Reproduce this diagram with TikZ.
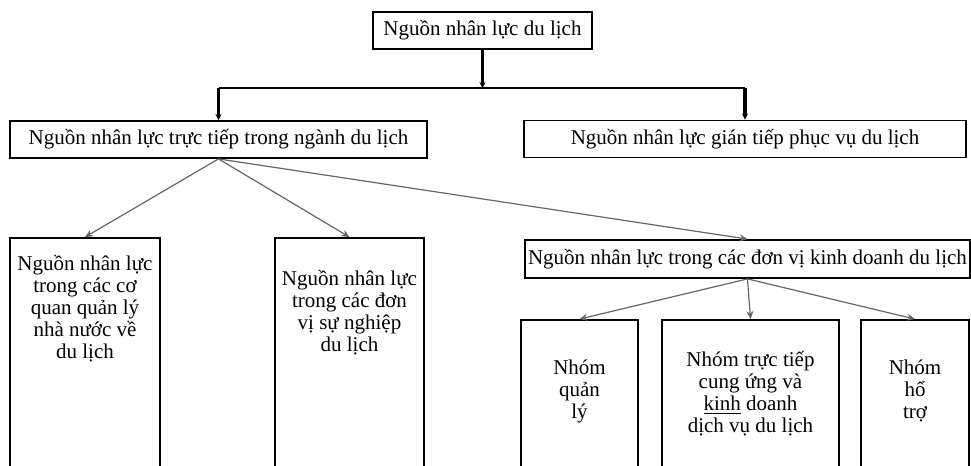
\documentclass[tikz,border=0pt]{standalone}
\usepackage{fontspec}
\setmainfont{Liberation Serif}
\usetikzlibrary{arrows.meta}
\begin{document}
\begin{tikzpicture}[x=0.5pt,y=-0.5pt,
    every node/.style={font=\fontsize{10.5}{11}\selectfont},
    hop/.style={draw=black,line width=0.9pt,inner sep=0pt,minimum height=18.5pt},
    cot/.style={draw=black,line width=0.9pt,inner sep=0pt},
    chu/.style={align=center,inner sep=0pt,anchor=north},
    truc/.style={line width=1.8pt,-{Stealth[length=3pt,width=3pt]}},
    ngang/.style={line width=1pt},
    nhanh/.style={draw=black!60,line width=0.6pt,-{Stealth[length=4pt,width=3.5pt]}}]

        \useasboundingbox (0,0) rectangle (971,466);
        \clip (0,0) rectangle (971,466);

        % tang tren
        \node[hop,minimum width=109.5pt] (goc) at (482.5,30.5) {Nguồn nhân lực du lịch};
        \coordinate (hub) at (482.5,88);

        \node[hop,minimum width=208.5pt] (tructiep) at (218.5,139.5) {Nguồn nhân lực trực tiếp trong ngành du lịch};
        \node[hop,minimum width=221pt] (giantiep) at (745,139) {Nguồn nhân lực gián tiếp phục vụ du lịch};

        \draw[truc] (goc) -- (hub);
        \draw[ngang] (tructiep |- hub) -- (giantiep |- hub);
        \draw[truc] (tructiep |- hub) -- (tructiep);
        \draw[truc] (giantiep |- hub) -- (giantiep);

        % tang giua
        \node[cot,minimum width=75pt,minimum height=126pt] (qlnn) at (85,364) {};
        \node[cot,minimum width=74.5pt,minimum height=126pt] (sunghiep) at (349.5,364) {};
        \node[hop,minimum width=222.5pt,minimum height=19pt] (kinhdoanh) at (747.5,259) {Nguồn nhân lực trong các đơn vị kinh doanh du lịch};

        \node[chu] (t-qlnn) at (85,255) {Nguồn nhân lực\\trong các cơ\\quan quản lý\\nhà nước về\\du lịch};
        \node[chu] (t-sunghiep) at (349.5,270) {Nguồn nhân lực\\trong các đơn\\vị sự nghiệp\\du lịch};

        \draw[nhanh] (tructiep.south) -- (qlnn.north);
        \draw[nhanh] (tructiep.south) -- (sunghiep.north);
        \draw[nhanh] (tructiep.south) -- (kinhdoanh.north);

        % tang duoi
        \node[cot,minimum width=58.5pt,minimum height=85pt] (quanly) at (579.5,405) {};
        \node[cot,minimum width=88.5pt,minimum height=85pt] (cungung) at (750.5,405) {};
        \node[cot,minimum width=54pt,minimum height=85pt] (hotro) at (915,405) {};

        \node[chu] (t-quanly) at (579.5,359) {Nhóm\\quản\\lý};
        \node[chu] (t-cungung) at (750.5,351) {Nhóm trực tiếp\\cung ứng và\\\underline{kinh} doanh\\dịch vụ du lịch};
        \node[chu] (t-hotro) at (915,359) {Nhóm\\hổ\\trợ};

        \draw[nhanh] (kinhdoanh.south) -- (quanly.north);
        \draw[nhanh] (kinhdoanh.south) -- (cungung.north);
        \draw[nhanh] (kinhdoanh.south) -- (hotro.north);
    \end{tikzpicture}
\end{document}
